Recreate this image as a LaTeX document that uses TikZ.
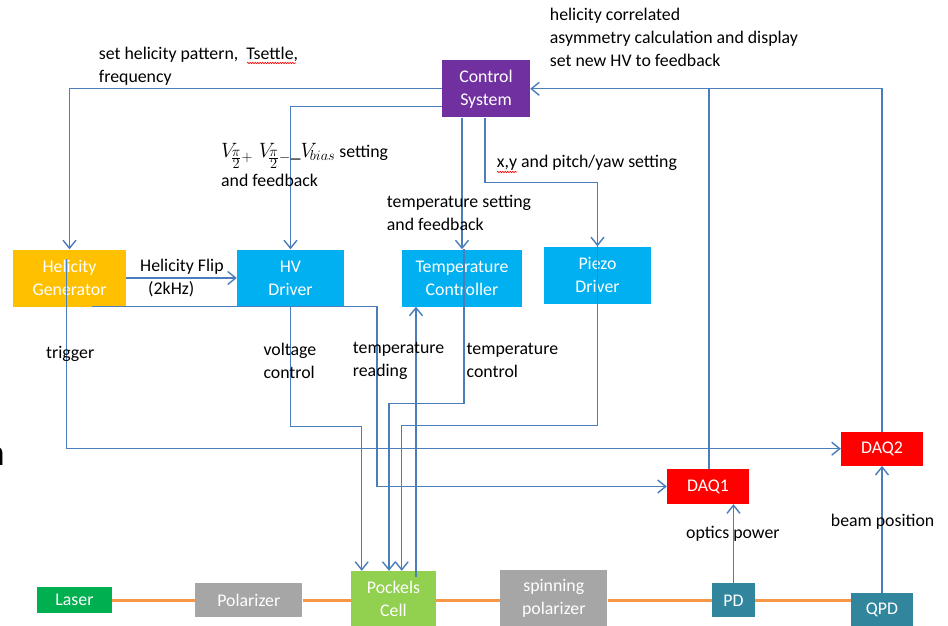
\documentclass[tikz,border=0pt]{standalone}
\usepackage{fontspec}
\setmainfont{Carlito}
\usetikzlibrary{arrows.meta,decorations.pathmorphing}
\definecolor{cpurple}{HTML}{7030A0}
\definecolor{corange}{HTML}{FFC000}
\definecolor{ccyan}{HTML}{00B0F0}
\definecolor{cred}{HTML}{FF0000}
\definecolor{cgreen}{HTML}{00B050}
\definecolor{cgray}{HTML}{A6A6A6}
\definecolor{clgreen}{HTML}{92D050}
\definecolor{cteal}{HTML}{31859C}
\definecolor{cbeam}{HTML}{F79646}
\definecolor{cline}{RGB}{74,126,187}
\tikzset{
  box/.style={fill=#1, text=white, align=center, inner sep=0pt,
    font=\fontsize{17.8}{23}\selectfont},
  lbl/.style={align=left, inner sep=0pt, anchor=west,
    font=\fontsize{17.8}{23}\selectfont},
  con/.style={draw=cline, line width=1.4pt,
    -{Straight Barb[length=8pt,width=13pt,line width=1.4pt]}},
  conline/.style={draw=cline, line width=1.4pt},
  beam/.style={draw=cbeam, line width=3pt},
  spell/.style={draw=red, line width=0.6pt, decorate,
    decoration={snake, amplitude=0.7pt, segment length=2.5pt}}
}
\begin{document}
\begin{tikzpicture}[x=1pt,y=-1pt]
\useasboundingbox[fill=white] (0,0) rectangle (948,626);

% nodes
\node[box=cpurple, minimum width=88pt, minimum height=57pt] (ctrl) at (486,88.8) {Control\\System};
\node[box=corange, minimum width=113pt, minimum height=57pt] (helgen) at (69.5,278) {Helicity\\Generator};
\node[box=ccyan, minimum width=107pt, minimum height=57pt] (hv) at (290.5,278) {HV\\Driver};
\node[box=ccyan, minimum width=120pt, minimum height=57pt] (temp) at (462,278) {Temperature\\Controller};
\node[box=ccyan, minimum width=107pt, minimum height=57pt] (piezo) at (597.5,275) {Piezo\\Driver};
\node[box=cred, minimum width=82pt, minimum height=34pt] (daq2) at (882,448.7) {DAQ2};
\node[box=cred, minimum width=82pt, minimum height=35pt] (daq1) at (708,486.5) {DAQ1};
\node[box=cgreen, minimum width=75pt, minimum height=26pt] (laser) at (74.5,600.3) {Laser};
\node[box=cgray, minimum width=107pt, minimum height=34pt] (pol) at (248.8,600.3) {Polarizer};
\node[box=clgreen, minimum width=85pt, minimum height=55pt] (pockels) at (393.5,598.5) {Pockels\\Cell};
\node[box=cgray, minimum width=107pt, minimum height=56pt] (spin) at (553.8,598.3) {spinning\\polarizer};
\node[box=cteal, minimum width=43pt, minimum height=34pt] (pd) at (733.5,600.3) {PD};
\node[box=cteal, minimum width=62pt, minimum height=33pt] (qpd) at (882,609.5) {QPD};

% laser beam
\draw[beam] (laser.east) -- (pol.west);
\draw[beam] (pol.east) -- (pol.east -| pockels.west);
\draw[beam] (pol.east -| pockels.east) -- (pol.east -| spin.west);
\draw[beam] (pol.east -| spin.east) -- (pd.west);
\draw[beam] (pd.east) -- (pd.east -| qpd.west);

% connectors
\draw[con] (ctrl.west) -| (helgen.north);
\draw[con] ([yshift=-17.7pt]ctrl.west) -| (hv.north);
\draw[con] (ctrl.south -| temp.north) -- (temp.north);
\draw[con] ([xshift=-1pt]ctrl.south) -- ++(0,65) -| (piezo.north);
\draw[con] (helgen.east) -- (hv.west);
\draw[con] ([xshift=-2.8pt,yshift=-10pt]helgen.north) |- (daq2.west);
\draw[con] ([xshift=22.5pt]helgen.south) -- ++(285,0) |- (daq1.west);
\draw[con] (hv.south) -- ++(0,119.5) -| ([xshift=-31.8pt]pockels.north);
\draw[con] ([xshift=2pt]temp.north) -- ++(0,154) -| ([xshift=-4.5pt]pockels.north);
\draw[con] (piezo.north) -- ++(0,179) -| ([xshift=8.2pt]pockels.north);
\draw[con] ([xshift=22.5pt,yshift=-6pt]pockels.north) coordinate (tr) -- (tr |- temp.south);
\draw[con] (pd.north) -- (pd.north |- daq1.south);
\draw[con] (qpd.north) -- (daq2.south);
\draw[con] (daq2.north) |- (ctrl.east);
\draw[conline] ([xshift=1pt]daq1.north) -- ([xshift=1pt]daq1.north |- ctrl.east);

% labels
\node[lbl] (l1) at (98.7,66.5) {set helicity pattern,\ \ Tsettle,\\frequency};
\node[lbl] (l2) at (549.7,37.5) {helicity correlated\\asymmetry calculation and display\\set new HV to feedback};
\node[lbl, anchor=base west] (l3a) at (221,157) {{\fontsize{19.5}{23}\selectfont$V_{\!\frac{\scriptstyle\pi}{\scriptstyle 2}+}\;V_{\!\frac{\scriptstyle\pi}{\scriptstyle 2}-}\mbox{\_}V_{\!bias}$} setting};
\node[lbl] (l3b) at (221,180) {and feedback};
\node[lbl] (l4) at (496.7,163) {x,y and pitch/yaw setting};
\node[lbl] (l5) at (386.7,213) {temperature setting\\and feedback};
\node[lbl] (l6) at (140,278.5) {Helicity Flip\\\ \ (2kHz)};
\node[lbl] (l7) at (46,354) {trigger};
\node[lbl] (l8) at (263.3,360.5) {voltage\\control};
\node[lbl] (l9) at (352.7,360.5) {temperature\\reading};
\node[lbl] (l10) at (466.5,360.5) {temperature\\control};
\node[lbl] (l11) at (686,534) {optics power};
\node[lbl] (l12) at (830.7,522) {beam position};
\node[anchor=base east, inner sep=0pt, font=\fontsize{38}{40}\selectfont] (frag) at (5,465) {n};

% spell-check marks
\draw[spell] (247,63) -- (296,63);
\draw[spell] (497,172) -- (517,172);
\end{tikzpicture}
\end{document}
